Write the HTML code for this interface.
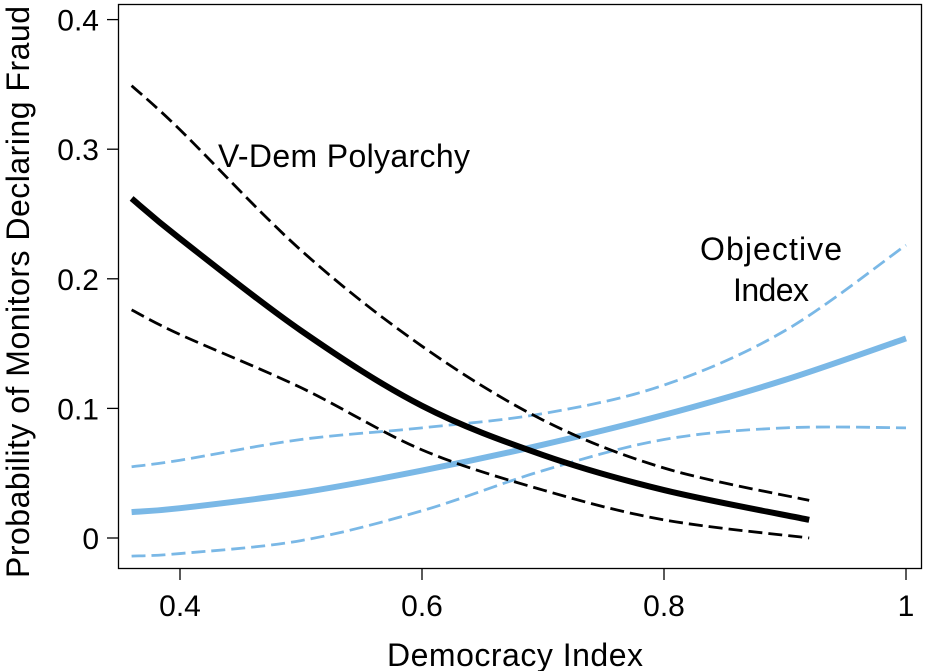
<!DOCTYPE html>
<html><head><meta charset="utf-8"><style>
html,body{margin:0;padding:0;background:#fff;}
svg{display:block;font-family:"Liberation Sans",Arial,sans-serif;}
</style></head><body>
<svg id="chart" width="925" height="671">
<rect x="118.5" y="4.5" width="803" height="564" fill="none" stroke="#000" stroke-width="1.3"/>
<g id="ticks"></g>
<g id="series"></g>
<text x="218" y="167" font-size="32" textLength="252">V-Dem Polyarchy</text>
<text x="700" y="260" font-size="32" textLength="142">Objective</text>
<text x="733" y="301" font-size="32" textLength="76">Index</text>
<text x="387" y="666" font-size="32" textLength="256">Democracy Index</text>
<text transform="translate(29,578) rotate(-90)" font-size="32" textLength="572">Probability of Monitors Declaring Fraud</text>
</svg>
<script>
const xTicks=[0.4,0.6,0.8,1];
const xTickLabels=["0.4","0.6","0.8","1"];
const yTicks=[0,0.1,0.2,0.3,0.4];
const yTickLabels=["0","0.1","0.2","0.3","0.4"];
const vdemX=[0.36,0.4,0.5,0.6,0.7,0.8,0.92];
const vdemMean=[0.262,0.231,0.16,0.102,0.064,0.037,0.014];
const vdemUpper=[0.349,0.315,0.222,0.148,0.091,0.054,0.029];
const vdemLower=[0.176,0.157,0.116,0.068,0.037,0.014,0.0];
const objX=[0.36,0.4,0.5,0.6,0.7,0.8,0.9,1.0];
const objMean=[0.020,0.023,0.035,0.052,0.072,0.095,0.122,0.154];
const objUpper=[0.055,0.060,0.076,0.085,0.096,0.118,0.16,0.226];
const objLower=[-0.014,-0.012,-0.002,0.021,0.052,0.076,0.085,0.085];
const sx=v=>180+(v-0.4)*1210;
const sy=v=>538-v*1296;
const NS="http://www.w3.org/2000/svg";
const tg=document.getElementById('ticks');
xTicks.forEach((t,i)=>{
 const l=document.createElementNS(NS,'line');
 l.setAttribute('x1',sx(t));l.setAttribute('x2',sx(t));l.setAttribute('y1',569);l.setAttribute('y2',580);
 l.setAttribute('stroke','#000');l.setAttribute('stroke-width','1.3');
 
 
 tg.appendChild(l);
 const tx=document.createElementNS(NS,'text');
 tx.setAttribute('x',sx(t));tx.setAttribute('y',616);tx.setAttribute('font-size','30');tx.setAttribute('text-anchor','middle');
 tx.textContent=xTickLabels[i];
 
 
 tg.appendChild(tx);
});
yTicks.forEach((t,i)=>{
 const l=document.createElementNS(NS,'line');
 l.setAttribute('x1',107);l.setAttribute('x2',118);l.setAttribute('y1',sy(t));l.setAttribute('y2',sy(t));
 l.setAttribute('stroke','#000');l.setAttribute('stroke-width','1.3');
 
 
 tg.appendChild(l);
 const tx=document.createElementNS(NS,'text');
 tx.setAttribute('x',99);tx.setAttribute('y',sy(t)+11);tx.setAttribute('font-size','30');tx.setAttribute('text-anchor','end');
 tx.textContent=yTickLabels[i];
 
 
 tg.appendChild(tx);
});
function pathD(xs,ys){
 const p=xs.map((x,i)=>[sx(x),sy(ys[i])]);
 let d='M'+p[0][0]+','+p[0][1];
 for(let i=0;i<p.length-1;i++){
  const p0=p[i-1]||p[i],p1=p[i],p2=p[i+1],p3=p[i+2]||p2;
  const c1=[p1[0]+(p2[0]-p0[0])/6,p1[1]+(p2[1]-p0[1])/6];
  const c2=[p2[0]-(p3[0]-p1[0])/6,p2[1]-(p3[1]-p1[1])/6];
  d+=' C'+c1+' '+c2+' '+p2;
 }
 return d;
}
const sg=document.getElementById('series');
function add(xs,ys,color,w,dash,name){
 const p=document.createElementNS(NS,'path');
 p.setAttribute('d',pathD(xs,ys));p.setAttribute('fill','none');
 p.setAttribute('stroke',color);p.setAttribute('stroke-width',w);
 if(dash)p.setAttribute('stroke-dasharray',dash);
 
 
 sg.appendChild(p);
}
add(objX,objUpper,'#7ab8e6',2.8,'14,6','objective-upper-ci');
add(objX,objLower,'#7ab8e6',2.8,'14,6','objective-lower-ci');
add(objX,objMean,'#7ab8e6',6,null,'objective-mean-line');
add(vdemX,vdemUpper,'#000',2.8,'14,6','vdem-upper-ci');
add(vdemX,vdemLower,'#000',2.8,'14,6','vdem-lower-ci');
add(vdemX,vdemMean,'#000',6,null,'vdem-mean-line');
</script>
</body></html>
